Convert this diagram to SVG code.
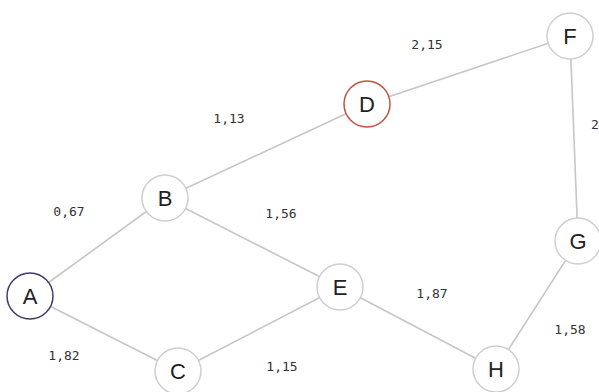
<svg xmlns="http://www.w3.org/2000/svg" width="599" height="392" viewBox="0 0 599 392">
<style>
.n{fill:#fff;stroke:#cfcfcf;stroke-width:1.5}
.t{font-family:"Liberation Sans",Arial,sans-serif;font-size:22px;fill:#222;text-anchor:middle;dominant-baseline:central}
.e{stroke:#c6c6c6;stroke-width:1.6;fill:none}
.l{font-family:"DejaVu Sans Mono",monospace;font-size:13px;fill:#333;text-anchor:middle;dominant-baseline:central}
</style>
<rect width="599" height="392" fill="#fff"/>
<g id="edges">
<line class="e" x1="30" y1="296" x2="165" y2="198"/>
<line class="e" x1="30" y1="296" x2="178" y2="371"/>
<line class="e" x1="165" y1="198" x2="367" y2="104"/>
<line class="e" x1="165" y1="198" x2="340" y2="287"/>
<line class="e" x1="178" y1="371" x2="340" y2="287"/>
<line class="e" x1="367" y1="104" x2="570" y2="36"/>
<line class="e" x1="570" y1="36" x2="578" y2="241"/>
<line class="e" x1="578" y1="241" x2="496" y2="369"/>
<line class="e" x1="340" y1="287" x2="496" y2="369"/>
</g>
<g id="labels">
<text class="l" x="427" y="44">2,15</text>
<text class="l" x="229" y="118">1,13</text>
<text class="l" x="595" y="124">2</text>
<text class="l" x="69" y="211">0,67</text>
<text class="l" x="281" y="213">1,56</text>
<text class="l" x="432" y="293">1,87</text>
<text class="l" x="64" y="355">1,82</text>
<text class="l" x="282" y="366">1,15</text>
<text class="l" x="570" y="329">1,58</text>
</g>
<g id="A"><circle class="n" cx="30" cy="296" r="23" style="stroke:#3d3b6b"/><text class="t" x="30" y="296">A</text></g>
<g id="B"><circle class="n" cx="165" cy="198" r="23"/><text class="t" x="165" y="198">B</text></g>
<g id="C"><circle class="n" cx="178" cy="371" r="23"/><text class="t" x="178" y="371">C</text></g>
<g id="D"><circle class="n" cx="367" cy="104" r="23" style="stroke:#c0533f"/><text class="t" x="367" y="104">D</text></g>
<g id="E"><circle class="n" cx="340" cy="287" r="23"/><text class="t" x="340" y="287">E</text></g>
<g id="F"><circle class="n" cx="570" cy="36" r="23"/><text class="t" x="570" y="36">F</text></g>
<g id="G"><circle class="n" cx="578" cy="241" r="23"/><text class="t" x="578" y="241">G</text></g>
<g id="H"><circle class="n" cx="496" cy="369" r="23"/><text class="t" x="496" y="369">H</text></g>
</svg>
